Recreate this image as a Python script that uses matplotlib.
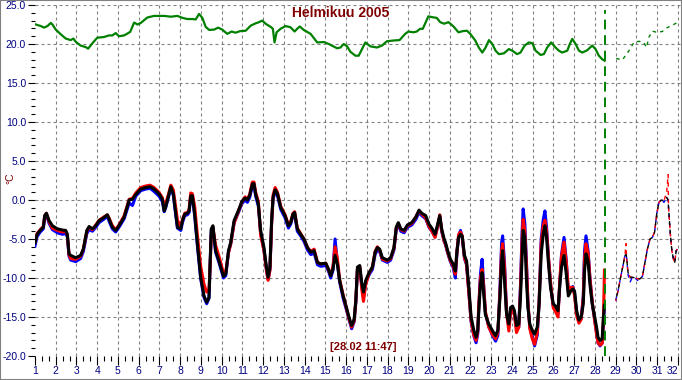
import matplotlib
matplotlib.use("Agg")
import matplotlib.pyplot as plt
from matplotlib.patches import Rectangle
from matplotlib.ticker import MultipleLocator, FormatStrFormatter

# indoor temperature (green), measured
green_t = [1.04, 1.28, 1.44, 1.6, 1.76, 1.84, 2.0, 2.24, 2.48, 2.72, 2.85, 2.96, 3.2, 3.45, 3.56, 3.77,
           4.0, 4.33, 4.57, 4.73, 4.89, 5.05, 5.3, 5.59, 5.78, 5.94, 6.1, 6.42, 6.74, 7.23, 7.55, 7.87,
           8.11, 8.35, 8.59, 8.75, 8.91, 9.07, 9.23, 9.4, 9.64, 9.83, 10.03, 10.27, 10.48, 10.67, 10.89,
           11.16, 11.4, 11.64, 11.8, 11.96, 12.12, 12.39, 12.47, 12.55, 12.65, 12.84, 13.08, 13.32, 13.52,
           13.64, 13.77, 13.96, 14.29, 14.61, 14.93, 15.17, 15.57, 15.73, 15.89, 16.05, 16.21, 16.45,
           16.61, 16.77, 16.93, 17.17, 17.49, 17.73, 17.97, 18.29, 18.58, 18.85, 19.01, 19.25, 19.41,
           19.57, 19.7, 19.81, 19.97, 20.13, 20.37, 20.54, 20.73, 20.94, 21.18, 21.42, 21.63, 21.83,
           21.99, 22.23, 22.4, 22.57, 22.73, 22.89, 23.05, 23.21, 23.37, 23.61, 23.85, 24.01, 24.25,
           24.41, 24.61, 24.82, 24.98, 25.14, 25.38, 25.54, 25.7, 25.89, 26.1, 26.26, 26.42, 26.67,
           26.79, 26.91, 27.07, 27.23, 27.39, 27.63, 27.87, 28.03, 28.19, 28.35, 28.47]
green_v = [22.5, 22.3, 22.1, 22.3, 22.7, 22.5, 21.85, 21.25, 20.7, 20.5, 20.7, 20.3, 19.8, 19.6, 19.4, 20.1,
           20.8, 20.9, 21.1, 21.1, 21.4, 21.0, 21.1, 21.55, 22.75, 22.5, 22.7, 23.4, 23.6, 23.6, 23.5, 23.6,
           23.35, 23.2, 23.2, 23.15, 23.85, 23.35, 22.2, 21.8, 21.85, 22.1, 21.85, 21.3, 21.6, 21.45, 21.65,
           21.7, 22.35, 22.65, 22.8, 23.0, 22.6, 22.15, 21.95, 20.2, 21.5, 21.95, 22.3, 22.15, 21.6,
           21.95, 22.25, 21.8, 21.3, 20.2, 20.25, 20.0, 19.45, 19.55, 20.0, 19.7, 19.0, 18.5,
           18.5, 19.35, 20.2, 19.7, 19.55, 19.8, 20.35, 20.45, 20.5, 21.3, 21.6, 21.5, 21.6,
           21.95, 21.95, 22.6, 23.55, 23.45, 23.35, 22.8, 22.6, 22.8, 22.25, 21.5, 21.65, 21.7,
           21.3, 20.45, 19.55, 18.9, 19.55, 20.5, 20.0, 19.15, 18.7, 18.8, 19.35, 19.15, 18.7,
           18.9, 19.8, 20.2, 20.1, 19.15, 18.6, 18.7, 19.55, 20.2, 19.55, 19.15, 18.9, 19.15,
           20.0, 20.65, 20.0, 19.15, 18.9, 19.2, 19.8, 19.35, 18.5, 18.05, 17.85]

# indoor forecast
green_ft = [29.03, 29.32, 29.53, 29.69, 29.88, 30.12, 30.36, 30.49, 30.6, 30.77, 30.97, 31.25, 31.49, 31.73, 31.94]
green_fv = [18.15, 17.95, 18.7, 19.35, 20.2, 20.35, 20.2, 19.55, 20.85, 21.65, 21.5, 21.6, 22.1, 22.4, 22.7]

# outdoor temperature, three sensors, measured
out_t = [1.0, 1.1, 1.25, 1.4, 1.47, 1.55, 1.68, 1.84, 2.08, 2.32, 2.48, 2.56, 2.64, 2.72, 2.96, 3.2,
         3.33, 3.5, 3.61, 3.77, 3.93, 4.09, 4.3, 4.49, 4.57, 4.73, 4.89, 5.05, 5.3, 5.54, 5.7, 5.86,
         6.1, 6.34, 6.55, 6.74, 6.98, 7.14, 7.23, 7.3, 7.42, 7.55, 7.67, 7.79, 7.87, 8.03, 8.11, 8.22,
         8.35, 8.43, 8.51, 8.59, 8.7, 8.83, 8.99, 9.15, 9.28, 9.39, 9.44, 9.5, 9.58, 9.71, 9.87, 10.09,
         10.2, 10.33, 10.44, 10.6, 10.84, 10.97, 11.13, 11.24, 11.35, 11.48, 11.56, 11.64, 11.77, 11.88,
         12.04, 12.16, 12.24, 12.33, 12.41, 12.48, 12.58, 12.69, 12.85, 13.06, 13.22, 13.33, 13.44,
         13.52, 13.65, 13.81, 13.97, 14.14, 14.3, 14.46, 14.62, 14.78, 15.02, 15.15, 15.26, 15.37,
         15.47, 15.58, 15.69, 15.86, 16.02, 16.14, 16.27, 16.39, 16.47, 16.55, 16.66, 16.76, 16.84,
         16.95, 17.11, 17.27, 17.4, 17.51, 17.62, 17.75, 17.99, 18.15, 18.31, 18.42, 18.52, 18.64,
         18.8, 18.96, 19.17, 19.36, 19.52, 19.65, 19.84, 20.0, 20.16, 20.29, 20.4, 20.52, 20.61,
         20.73, 20.79, 20.9, 21.03, 21.16, 21.27, 21.35, 21.43, 21.52, 21.6, 21.71, 21.81, 21.92,
         22.03, 22.16, 22.27, 22.35, 22.4, 22.48, 22.56, 22.64, 22.72, 22.88, 23.05, 23.21, 23.32,
         23.42, 23.5, 23.55, 23.64, 23.74, 23.85, 23.93, 24.03, 24.12, 24.22, 24.33, 24.41, 24.49,
         24.54, 24.62, 24.7, 24.77, 24.86, 24.98, 25.09, 25.22, 25.31, 25.41, 25.51, 25.59, 25.67,
         25.75, 25.86, 25.99, 26.1, 26.22, 26.31, 26.39, 26.51, 26.62, 26.72, 26.83, 26.94, 27.02,
         27.12, 27.23, 27.34, 27.44, 27.5, 27.57, 27.67, 27.76, 27.87, 27.99, 28.08, 28.15, 28.25,
         28.35, 28.41, 28.46]
out_black = [-5.5, -4.4, -3.9, -3.5, -2.0, -1.7, -2.65, -3.3, -3.7, -3.85, -3.9, -4.4, -6.9, -7.1, -7.4, -7.1,
             -6.3, -3.9, -3.4, -3.7, -3.3, -2.65, -2.3, -1.9, -2.4, -3.5, -3.9, -3.3, -2.2, 0.0, 0.1, 0.7,
             1.4, 1.6, 1.7, 1.4, 0.8, 0.1, -1.4, -0.9, 0.35, 1.7, 0.8, -1.8, -3.5, -3.7, -2.65, -1.8,
             -1.7, -1.4, 0.55, 0.55, -1.8, -5.6, -9.9, -12.3, -13.1, -12.5, -8.6, -3.7, -3.3, -6.5, -7.8, -9.8,
             -9.5, -6.5, -5.4, -2.65, -1.15, -0.2, 0.25, 0.0, 0.55, 2.05, 2.1, 0.75, -0.5, -3.9,
             -6.1, -8.6, -9.9, -8.6, -2.65, 0.35, 1.3, 0.85, -0.95, -2.0, -3.3, -2.9, -1.8,
             -1.6, -3.7, -4.4, -5.0, -6.1, -6.7, -6.5, -8.0, -8.2, -8.1, -8.85, -9.7, -8.85,
             -7.1, -8.2, -10.3, -12.3, -13.8, -15.0, -16.1, -15.3, -12.9, -8.6, -8.4, -10.7, -11.8,
             -10.3, -9.3, -8.6, -6.7, -6.1, -6.3, -7.4, -7.7, -7.4, -6.1, -3.5, -2.9, -3.7,
             -3.9, -3.2, -2.9, -2.2, -1.3, -1.7, -2.0, -3.1, -3.7, -4.4, -3.3, -2.0, -3.7,
             -5.0, -5.4, -6.5, -7.6, -8.2, -9.1, -6.5, -4.8, -4.4, -4.6, -7.1, -7.8, -11.2,
             -15.0, -16.7, -17.6, -16.7, -14.2, -10.8, -9.3, -12.1, -14.7, -15.9, -16.7, -17.4, -16.7,
             -12.5, -7.8, -6.5, -10.3, -14.6, -15.9, -13.8, -13.6, -14.2, -16.1, -15.9, -12.5, -7.4,
             -3.9, -4.8, -10.3, -13.8, -15.9, -16.7, -17.2, -16.3, -13.3, -6.9, -4.4, -3.3, -4.8,
             -7.8, -11.2, -13.3, -13.6, -14.2, -10.8, -8.6, -7.1, -9.5, -12.3, -11.7, -11.4, -11.7,
             -14.2, -15.4, -15.0, -13.3, -9.1, -6.9, -7.8, -10.8, -13.3, -15.0, -16.3, -17.6, -18.0,
             -17.8, -15.0, -13.5]
out_red = [-5.4, -4.3, -3.8, -3.4, -2.0, -1.7, -2.8, -3.6, -3.9, -4.1, -4.0, -4.5, -7.0, -7.5, -7.6, -7.2,
           -6.3, -4.0, -3.5, -3.8, -3.2, -2.6, -2.2, -1.9, -2.3, -3.3, -3.8, -3.2, -2.0, 0.1, 0.2, 0.9,
           1.6, 1.8, 1.9, 1.6, 1.0, 0.3, -0.8, -0.5, 0.6, 1.9, 1.3, -1.0, -2.6, -3.4, -2.5, -1.7,
           -1.6, -1.2, 0.9, 0.8, -0.8, -4.5, -8.5, -10.8, -11.8, -11.5, -8.8, -4.5, -3.6, -5.8, -7.2, -9.4,
           -9.2, -6.8, -5.6, -3.0, -1.2, -0.3, 0.4, 0.1, 0.7, 2.3, 2.3, 1.0, -0.2, -4.5,
           -6.5, -9.0, -10.3, -9.0, -3.0, 0.6, 1.6, 1.0, -0.8, -1.9, -3.2, -2.8, -1.7,
           -1.5, -3.6, -4.3, -5.0, -6.1, -6.6, -6.3, -8.0, -8.2, -8.1, -8.9, -9.6, -8.5,
           -6.0, -7.5, -10.2, -12.2, -13.9, -15.2, -16.3, -15.5, -13.0, -8.8, -8.5, -11.5, -13.0,
           -10.8, -9.4, -8.6, -6.6, -6.0, -6.4, -7.6, -7.8, -7.5, -6.2, -3.6, -3.0, -3.8,
           -4.0, -3.3, -3.0, -2.2, -1.4, -1.8, -2.3, -3.4, -4.1, -4.8, -3.6, -1.9, -3.9,
           -5.3, -5.6, -6.7, -7.8, -8.4, -9.5, -6.5, -4.4, -4.1, -4.6, -7.4, -8.2, -11.8,
           -15.5, -17.3, -18.0, -16.9, -13.5, -10.0, -8.9, -11.2, -14.3, -16.3, -17.2, -17.8, -17.0,
           -12.0, -6.5, -5.6, -8.5, -14.5, -16.8, -14.5, -13.8, -14.8, -17.0, -16.3, -11.5, -5.0,
           -2.5, -4.0, -8.5, -13.0, -16.5, -17.8, -18.5, -17.0, -13.0, -5.5, -3.3, -2.6, -4.0,
           -7.0, -10.5, -13.8, -14.3, -15.0, -10.2, -7.2, -5.4, -8.0, -11.5, -11.2, -11.2, -12.3,
           -14.8, -15.8, -15.3, -12.5, -7.5, -5.6, -6.8, -10.0, -13.0, -15.5, -17.2, -18.3, -18.6,
           -18.4, -15.5, -9.0]
out_blue = [-5.9, -4.7, -4.1, -3.7, -2.2, -1.9, -3.0, -3.8, -4.2, -4.4, -4.3, -4.7, -7.2, -7.7, -7.9, -7.5,
            -6.6, -4.3, -3.8, -4.0, -3.5, -2.9, -2.5, -2.1, -2.7, -3.7, -4.1, -3.5, -2.4, -0.4, -0.7, 0.5,
            1.2, 1.4, 1.5, 1.1, 0.5, -0.2, -1.5, -1.0, 0.2, 1.5, 0.6, -2.0, -3.6, -3.9, -2.9, -2.0,
            -1.9, -1.6, 0.4, 0.3, -2.0, -5.8, -10.1, -12.5, -13.3, -12.6, -8.8, -3.9, -3.5, -6.7, -8.0, -10.0,
            -9.7, -6.7, -5.6, -2.9, -1.4, -0.5, 0.0, -0.3, 0.3, 1.8, 1.9, 0.5, -0.8, -4.2,
            -6.4, -8.9, -10.2, -8.9, -2.9, 0.1, 1.1, 0.6, -1.2, -2.3, -3.6, -3.1, -2.0,
            -1.8, -4.0, -4.6, -5.3, -6.4, -7.0, -6.8, -8.3, -8.5, -8.4, -9.1, -10.0, -9.0,
            -5.0, -8.0, -10.5, -12.6, -14.1, -15.3, -16.5, -15.6, -13.2, -8.9, -8.7, -11.0, -12.5,
            -10.6, -9.6, -8.9, -7.0, -6.4, -6.6, -7.7, -8.0, -7.7, -6.4, -3.8, -3.2, -4.0,
            -4.2, -3.5, -3.2, -2.5, -1.6, -2.0, -2.4, -3.5, -4.1, -4.7, -3.5, -2.1, -4.0,
            -5.3, -5.7, -6.8, -7.9, -8.6, -10.0, -6.7, -4.6, -3.9, -4.8, -7.5, -8.3, -11.8,
            -15.6, -17.4, -18.3, -17.2, -13.8, -9.5, -7.6, -11.0, -14.5, -16.2, -17.3, -18.1, -17.4,
            -11.5, -5.5, -4.6, -8.0, -14.5, -16.3, -14.2, -13.9, -14.6, -16.5, -16.3, -11.0, -4.0,
            -1.15, -3.0, -8.0, -13.2, -16.3, -17.5, -18.7, -17.3, -13.2, -5.0, -2.5, -1.4, -3.5,
            -7.0, -10.8, -13.6, -14.0, -14.6, -10.5, -7.0, -4.8, -7.8, -11.8, -11.3, -11.1, -12.0,
            -14.5, -15.6, -15.2, -12.3, -6.5, -4.6, -6.5, -10.0, -13.2, -15.4, -17.0, -18.3, -18.7,
            -18.3, -16.0, -13.5]

# outdoor forecast
fc_t = [29.0, 29.12, 29.24, 29.37, 29.45, 29.5, 29.53, 29.6, 29.7, 29.81, 29.94, 30.05, 30.18, 30.29, 30.4,
        30.53, 30.66, 30.77, 30.88, 30.98, 31.09, 31.2, 31.33, 31.46, 31.53, 31.55, 31.63, 31.71, 31.79,
        31.85, 31.92, 31.98]
fc_black = [-12.9, -11.6, -9.9, -8.2, -7.1, -7.0, -7.4, -9.3, -9.9, -9.9, -10.0, -10.1, -10.1, -9.8, -8.2,
            -6.3, -5.0, -4.8, -4.1, -1.8, -0.3, 0.0, -0.1, 0.35, 0.0, -0.95, -4.1, -6.5, -7.6, -8.0, -6.5, -6.3]
fc_red = [-12.9, -11.6, -9.9, -8.2, -7.1, -5.6, -7.4, -9.3, -9.9, -9.9, -10.0, -10.1, -10.1, -9.8, -8.2,
          -6.3, -5.0, -4.8, -4.1, -1.8, -0.3, 0.0, -0.1, 1.0, 3.25, -0.95, -4.1, -6.5, -7.6, -8.0, -6.5, -6.3]
fc_blue = [-12.9, -11.6, -9.9, -8.2, -7.1, -7.0, -7.4, -9.6, -10.5, -9.9, -10.0, -10.3, -10.1, -9.8, -8.2,
           -6.3, -5.0, -4.8, -4.1, -1.8, -0.3, 0.0, -0.3, 0.35, 0.0, -0.95, -4.1, -6.5, -7.6, -8.0, -6.5, -6.3]

now_day = 28.49
title = "Helmikuu 2005"
stamp = "[28.02 11:47]"
day_labels = [str(d) for d in range(1, 33)]

plt.rcParams['font.family'] = ['Liberation Sans', 'DejaVu Sans']

fig = plt.figure(figsize=(6.82, 3.80), dpi=100)
ax = fig.add_axes([35 / 682, 24 / 380, 647 / 682, 351 / 380])

ax.plot(green_t, green_v, color='#008000', lw=1.6, zorder=3)
ax.plot(green_ft, green_fv, color='#008000', lw=1.0, ls=(0, (2.5, 3)), zorder=3)

ax.plot(out_t, out_blue, color='#0000ff', lw=2.2, zorder=3)
ax.plot(out_t, out_red, color='#ff0000', lw=2.2, zorder=3)
ax.plot(out_t, out_black, color='black', lw=2.2, zorder=4)

ax.plot(fc_t, fc_blue, color='#0000ff', lw=1.0, ls=(0, (3, 3)), zorder=3)
ax.plot(fc_t, fc_red, color='#ff0000', lw=1.0, ls=(1.5, (3, 3)), zorder=3)
ax.plot(fc_t, fc_black, color='black', lw=1.0, ls=(3, (3, 3)), zorder=4)

ax.axvline(now_day, ymin=0.0, ymax=0.985, color='#008000', lw=1.4, ls=(0, (5, 3)), zorder=5)

ax.set_xlim(1, 32.2)
ax.set_ylim(-20, 25)
ax.xaxis.set_minor_locator(MultipleLocator(1 / 3))
ax.set_xticks(range(1, 33))
ax.set_xticklabels(day_labels)
ax.yaxis.set_major_locator(MultipleLocator(5))
ax.yaxis.set_minor_locator(MultipleLocator(1))
ax.yaxis.set_major_formatter(FormatStrFormatter('%.1f'))

for s in ax.spines.values():
    s.set_visible(False)

ax.tick_params(axis='x', which='major', length=6.5, width=0.8, labelsize=7.5,
               labelcolor='#000080', pad=1)
ax.tick_params(axis='x', which='minor', length=3.5, width=0.8)
ax.tick_params(axis='y', which='major', length=5, width=0.8, labelsize=7.5,
               labelcolor='#000080', pad=1.5)
ax.tick_params(axis='y', which='minor', length=2.8, width=0.8)

# last day label would hang over the right edge
ax.get_xticklabels()[-1].set_horizontalalignment('right')

ax.grid(True, which='major', color='#808080', lw=0.8, ls=(0, (2.7, 2.7)))
ax.get_xgridlines()[0].set_visible(False)
ax.get_ygridlines()[0].set_visible(False)
ax.get_ygridlines()[-1].set_visible(False)

fig.text(341 / 682, 1 - 13 / 380, title, color='#800000', fontsize=10, fontweight='bold',
         ha='center', va='center')
fig.text(363 / 682, 1 - 347 / 380, stamp, color='#800000', fontsize=8, fontweight='bold',
         ha='center', va='center')
fig.text(10 / 682, 1 - 178 / 380, '°C', color='#800000', fontsize=7.5, rotation=90,
         ha='center', va='center')

fig.patches.append(Rectangle((0, 0), 1, 1, transform=fig.transFigure, fill=False,
                             edgecolor='#808080', lw=1.5))

fig.savefig('out.png', dpi=100)
